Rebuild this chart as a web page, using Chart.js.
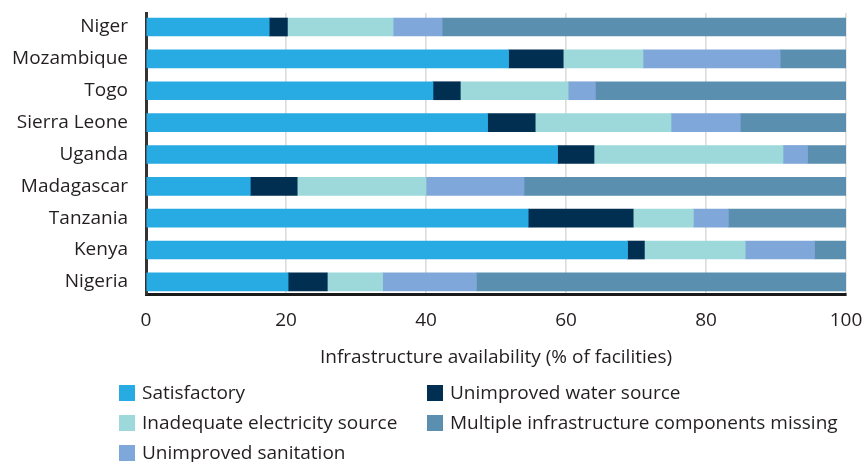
<!DOCTYPE html>
<html>
<head>
<meta charset="utf-8">
<script src="https://cdn.jsdelivr.net/npm/chart.js@4"></script>
<style>
  html, body { margin: 0; padding: 0; background: #fff; }
  #wrap { width: 864px; height: 462px; }
</style>
</head>
<body>
<div id="wrap"><canvas id="chart" width="864" height="462"></canvas></div>
<script>
var countries = ["Niger", "Mozambique", "Togo", "Sierra Leone", "Uganda", "Madagascar", "Tanzania", "Kenya", "Nigeria"];

// % of facilities
var satisfactory   = [17.6, 51.8, 41.0, 48.8, 58.8, 14.9, 54.6, 68.8, 20.3];
var unimprovedWater = [2.6, 7.8, 3.9, 6.8, 5.2, 6.7, 15.0, 2.4, 5.6];
var inadequateElec = [15.1, 11.4, 15.4, 19.4, 27.0, 18.4, 8.6, 14.4, 7.9];
var unimprovedSan  = [7.0, 19.6, 3.9, 9.9, 3.5, 14.0, 5.0, 9.9, 13.4];
var multipleMissing = [57.7, 9.4, 35.8, 15.1, 5.5, 46.0, 16.8, 4.5, 52.8];

var xTicks = [0, 20, 40, 60, 80, 100];

var FONT = "'Open Sans', Lato, sans-serif";
var FONT_SIZE = 19;
var TEXT = "#231f20";

function series(label, values, color) {
    return {
        label: label,
        data: values.map(function(v, i) { return { x: v, y: i }; }),
        backgroundColor: color,
        borderWidth: 0,
        barThickness: 18
    };
}

var datasets = [
    series("Satisfactory", satisfactory, "#27abe2"),
    series("Unimproved water source", unimprovedWater, "#002f52"),
    series("Inadequate electricity source", inadequateElec, "#9dd9da"),
    series("Unimproved sanitation", unimprovedSan, "#7fa7da"),
    series("Multiple infrastructure components missing", multipleMissing, "#5a8fb0")
];

// two-column legend, filled column by column
var legendColumns = [[0, 2, 3], [1, 4]];

var gridLegend = {
    id: "gridLegend",
    afterDraw: function(chart) {
        var ctx = chart.ctx;
        var colX = [119, 427];
        var rowY = [393, 423, 453];
        ctx.save();
        ctx.font = FONT_SIZE + "px " + FONT;
        ctx.textBaseline = "middle";
        ctx.textAlign = "left";
        legendColumns.forEach(function(col, c) {
            col.forEach(function(idx, r) {
                var ds = chart.data.datasets[idx];
                ctx.fillStyle = ds.backgroundColor;
                ctx.fillRect(colX[c], rowY[r] - 8, 16, 16);
                ctx.fillStyle = TEXT;
                ctx.fillText(ds.label, colX[c] + 23, rowY[r] + 1);
            });
        });
        ctx.restore();
    }
};

new Chart(document.getElementById("chart"), {
    type: "bar",
    data: { datasets: datasets },
    plugins: [gridLegend],
    options: {
        indexAxis: "y",
        responsive: false,
        animation: false,
        layout: { padding: { left: 0, right: 18, top: 13, bottom: 93 } },
        plugins: {
            legend: { display: false },
            tooltip: { enabled: false }
        },
        scales: {
            x: {
                type: "linear",
                stacked: true,
                min: 0,
                max: 100,
                afterBuildTicks: function(scale) {
                    scale.ticks = xTicks.map(function(v) { return { value: v }; });
                },
                afterFit: function(scale) {
                    scale.height = 75;
                    scale.paddingLeft = 0;
                    scale.paddingRight = 0;
                },
                grid: { color: "#dcdcdc", lineWidth: 1.6, drawTicks: false },
                border: { display: true, color: "#1a1a1a", width: 3 },
                ticks: { color: TEXT, font: { family: FONT, size: FONT_SIZE }, padding: 15 },
                title: {
                    display: true,
                    text: "Infrastructure availability (% of facilities)",
                    color: TEXT,
                    font: { family: FONT, size: FONT_SIZE },
                    padding: 0
                }
            },
            y: {
                type: "linear",
                stacked: true,
                reverse: true,
                offset: false,
                min: -0.44,
                max: 8.38,
                afterBuildTicks: function(scale) {
                    scale.ticks = countries.map(function(c, i) { return { value: i }; });
                },
                afterFit: function(scale) {
                    scale.width = 146;
                    scale.paddingTop = 0;
                    scale.paddingBottom = 0;
                },
                grid: { display: false, drawTicks: false, offset: false },
                border: { display: true, color: "#333333", width: 3 },
                ticks: {
                    color: TEXT,
                    font: { family: FONT, size: FONT_SIZE },
                    padding: 18,
                    callback: function(value) { return countries[value]; }
                }
            }
        }
    }
});
</script>
</body>
</html>
